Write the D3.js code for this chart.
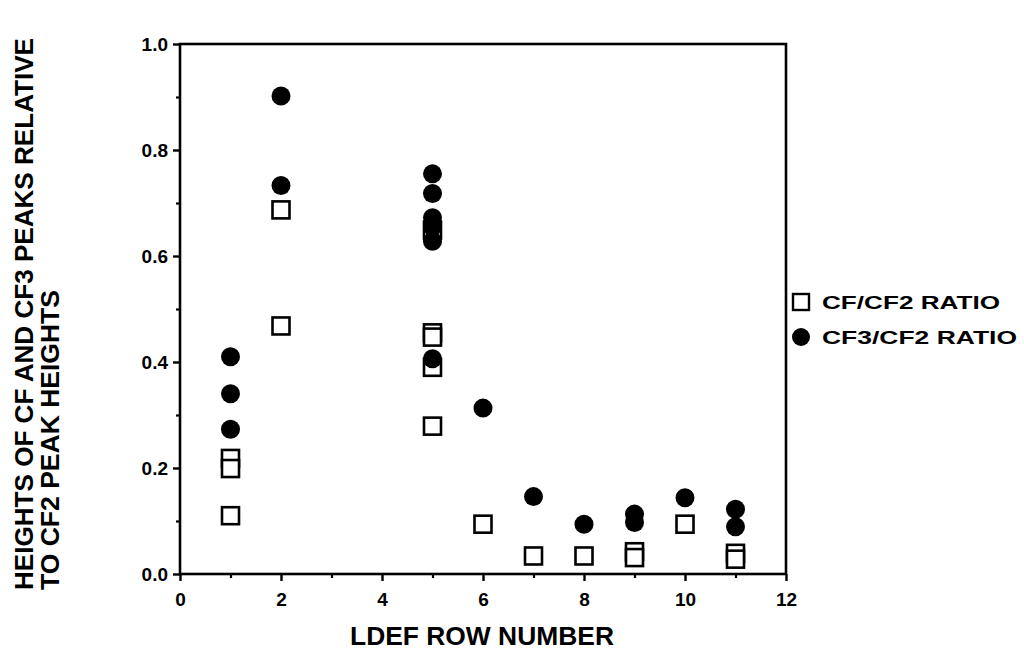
<!DOCTYPE html>
<html>
<head>
<meta charset="utf-8">
<script src="https://cdn.jsdelivr.net/npm/d3@7"></script>
<style>
  html, body { margin: 0; padding: 0; background: #fff; }
  svg { display: block; }
  text { font-family: "Liberation Sans", Arial, Helvetica, sans-serif; fill: #000; }
</style>
</head>
<body>
<svg id="chart" width="1024" height="654"></svg>
<script>
// ---- data ----
const cfRows   = [1, 1, 1, 2, 2, 5, 5, 5, 5, 5, 6, 7, 8, 9, 9, 10, 11, 11];
const cfValues = [0.218, 0.199, 0.110, 0.687, 0.468, 0.649, 0.455, 0.447, 0.390, 0.279, 0.094, 0.034, 0.034, 0.042, 0.031, 0.094, 0.039, 0.028];

const cf3Rows   = [1, 1, 1, 2, 2, 5, 5, 5, 5, 5, 5, 6, 7, 8, 9, 9, 10, 11, 11];
const cf3Values = [0.410, 0.340, 0.273, 0.902, 0.733, 0.755, 0.718, 0.672, 0.655, 0.628, 0.406, 0.313, 0.146, 0.094, 0.113, 0.097, 0.144, 0.122, 0.089];

const xTicks = [0, 2, 4, 6, 8, 10, 12];
const xMinorTicks = [1, 3, 5, 7, 9, 11];
const yTicks = [0.0, 0.2, 0.4, 0.6, 0.8, 1.0];
const yMinorTicks = [0.1, 0.3, 0.5, 0.7, 0.9];

const seriesNames = ["CF/CF2 RATIO", "CF3/CF2 RATIO"];
const xTitle = "LDEF ROW NUMBER";
const yTitleLines = ["HEIGHTS OF CF AND CF3 PEAKS RELATIVE", "TO CF2 PEAK HEIGHTS"];

// ---- layout ----
const L = 180, R = 786, T = 44, B = 574;
const svg = d3.select("#chart");
const x = d3.scaleLinear().domain([0, 12]).range([L, R]);
const y = d3.scaleLinear().domain([0, 1]).range([B, T]);

const axisW = 2.6;

// frame
svg.append("rect")
  .attr("x", L).attr("y", T).attr("width", R - L).attr("height", B - T)
  .attr("fill", "none").attr("stroke", "#000").attr("stroke-width", axisW);

// x axis
const xAxis = d3.axisBottom(x).tickValues(xTicks).tickFormat(d3.format("d"))
  .tickSize(7).tickPadding(12);
const gx = svg.append("g").attr("transform", `translate(0,${B})`).call(xAxis);
gx.select(".domain").remove();
gx.selectAll(".tick line").attr("stroke-width", 2.4);
gx.selectAll(".tick text").attr("font-size", 19).attr("font-weight", "bold")
  .style("font-family", "'Liberation Sans', Arial, sans-serif");

const xMinor = d3.axisBottom(x).tickValues(xMinorTicks).tickFormat("").tickSize(4);
const gxm = svg.append("g").attr("transform", `translate(0,${B})`).call(xMinor);
gxm.select(".domain").remove();
gxm.selectAll(".tick line").attr("stroke-width", 2.2);

// y axis
const yAxis = d3.axisLeft(y).tickValues(yTicks).tickFormat(d3.format(".1f"))
  .tickSize(7).tickPadding(5);
const gy = svg.append("g").attr("transform", `translate(${L},0)`).call(yAxis);
gy.select(".domain").remove();
gy.selectAll(".tick line").attr("stroke-width", 2.4);
gy.selectAll(".tick text").attr("font-size", 19).attr("font-weight", "bold")
  .style("font-family", "'Liberation Sans', Arial, sans-serif");

const yMinor = d3.axisLeft(y).tickValues(yMinorTicks).tickFormat("").tickSize(4);
const gym = svg.append("g").attr("transform", `translate(${L},0)`).call(yMinor);
gym.select(".domain").remove();
gym.selectAll(".tick line").attr("stroke-width", 2.2);

// ---- marks ----
const sq = 17;
const cfData = cfRows.map((r, i) => ({ r, v: cfValues[i] }));
const cf3Data = cf3Rows.map((r, i) => ({ r, v: cf3Values[i] }));

svg.append("g").selectAll("rect").data(cfData).join("rect")
  .attr("x", d => x(d.r) - sq / 2).attr("y", d => y(d.v) - sq / 2)
  .attr("width", sq).attr("height", sq)
  .attr("fill", "#fff").attr("stroke", "#000").attr("stroke-width", 2.6);

svg.append("g").selectAll("circle").data(cf3Data).join("circle")
  .attr("cx", d => x(d.r)).attr("cy", d => y(d.v)).attr("r", 9.5)
  .attr("fill", "#000");

// ---- titles ----
svg.append("text")
  .attr("x", (L + R) / 2 - 1).attr("y", 645)
  .attr("text-anchor", "middle")
  .attr("font-size", 25).attr("font-weight", "bold")
  .attr("textLength", 264).attr("lengthAdjust", "spacingAndGlyphs")
  .text(xTitle);

const yTitleX = [33, 59];
const yTitleLen = [552, 300];
yTitleLines.forEach((t, i) => {
  svg.append("text")
    .attr("transform", `translate(${yTitleX[i]},590) rotate(-90)`)
    .attr("text-anchor", "start")
    .attr("font-size", 25).attr("font-weight", "bold")
    .attr("textLength", yTitleLen[i]).attr("lengthAdjust", "spacingAndGlyphs")
    .text(t);
});

// ---- legend ----
const legY = [302, 337];
const lg = svg.append("g");
lg.append("rect").attr("x", 801 - 8).attr("y", legY[0] - 8).attr("width", 16).attr("height", 16)
  .attr("fill", "#fff").attr("stroke", "#000").attr("stroke-width", 2.4);
lg.append("circle").attr("cx", 801).attr("cy", legY[1]).attr("r", 9).attr("fill", "#000");
const legLen = [178, 195];
seriesNames.forEach((n, i) => {
  lg.append("text").attr("x", 822).attr("y", legY[i] + 7)
    .attr("font-size", 18).attr("font-weight", "bold")
    .attr("textLength", legLen[i]).attr("lengthAdjust", "spacingAndGlyphs")
    .text(n);
});
</script>
</body>
</html>
